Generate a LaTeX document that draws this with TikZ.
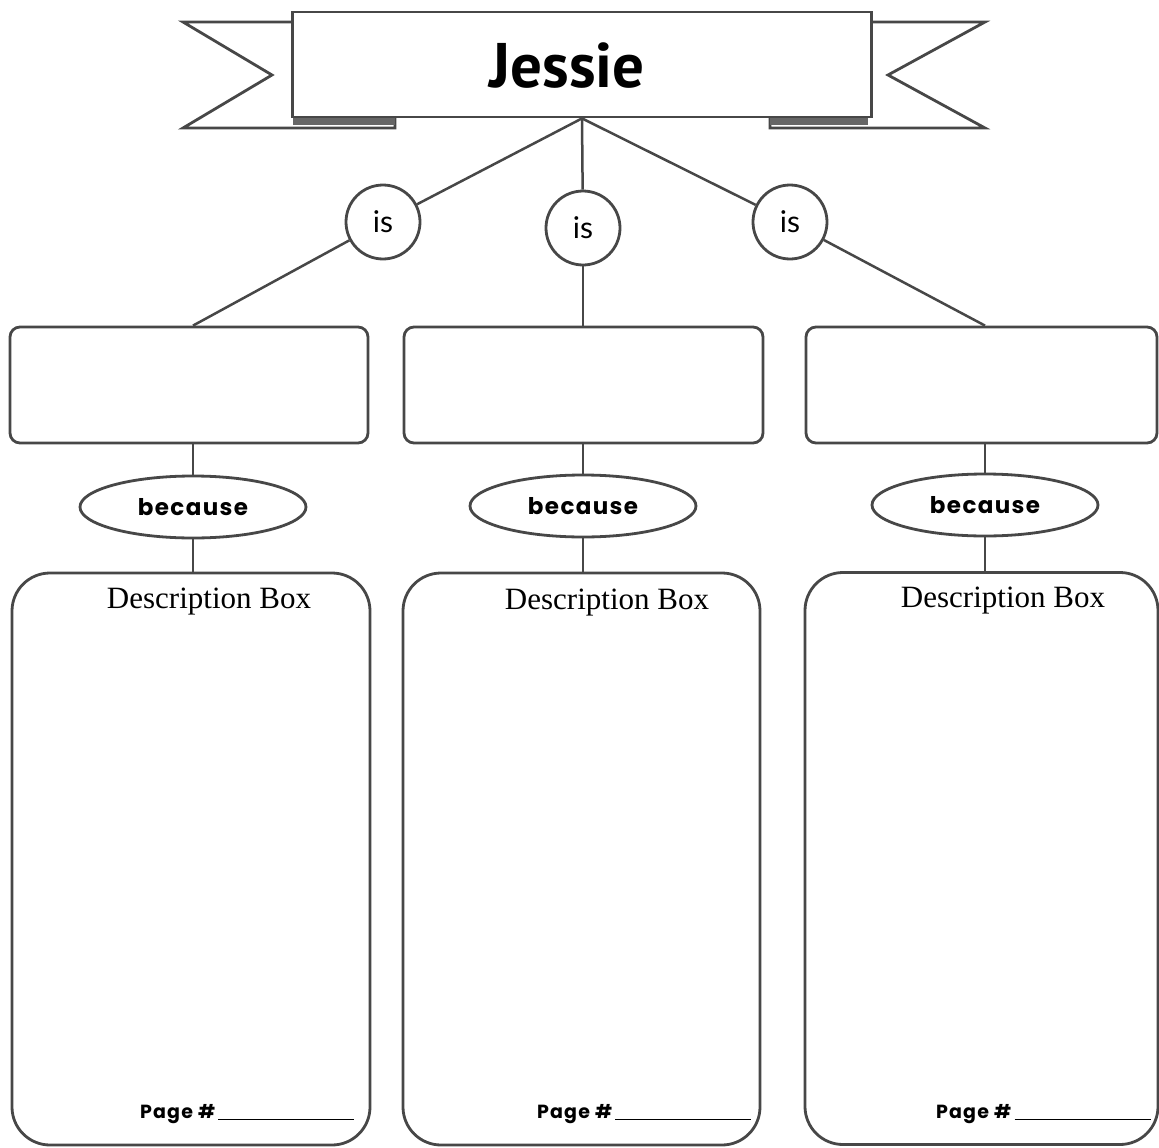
\documentclass[tikz,border=0pt]{standalone}
\usepackage{fontspec}
\setmainfont{Liberation Serif}
\newfontfamily\titlefont{PT Sans}
\newfontfamily\gothic{Poppins}[LetterSpace=6]
\newfontfamily\isfont{Lato}
\usetikzlibrary{shapes.geometric}
\begin{document}
\begin{tikzpicture}[x=1pt,y=-1pt,
  ink/.style={draw=black!72, line width=2.8pt},
  conn/.style={draw=black!72, line width=2.5pt},
  topbox/.style={ink, rounded corners=10pt, minimum height=116pt, inner sep=0pt},
  isnode/.style={ink, circle, fill=white, minimum size=74pt, inner sep=0pt, font=\isfont\fontsize{30}{32}\selectfont},
  becnode/.style={ink, ellipse, fill=white, minimum width=226pt, minimum height=62pt, inner sep=0pt, font=\gothic\bfseries\fontsize{23}{26}\selectfont},
  descbox/.style={ink, rounded corners=38pt, minimum height=572pt, inner sep=0pt},
  desclabel/.style={font=\fontsize{31}{36}\selectfont, inner sep=0pt},
  pagelabel/.style={font=\gothic\bfseries\fontsize{19}{24}\selectfont, inner sep=0pt, anchor=base west}
]
\useasboundingbox (0,0) rectangle (1159,1148);
\fill[white] (0,0) rectangle (1159,1148);

% ribbon tails
\draw[ink, line join=miter] (291,22) -- (183,22) -- (272,75) -- (183,128) -- (395,128) -- (395,117);
\draw[ink, line join=miter] (870,22) -- (985,22) -- (888,75) -- (985,128) -- (770,128) -- (770,117);
\fill[black!60] (293,117) rectangle (395,125);
\fill[black!60] (770,117) rectangle (868,125);

% banner
\node[ink, fill=white, minimum width=579pt, minimum height=105pt, inner sep=0pt] (banner) at (582,64.5) {};
\node[font=\titlefont\bfseries\fontsize{63}{66}\selectfont, inner sep=0pt] (title) at (567,66) {Jessie};

% "is" circles
\node[isnode] (is1) at (383,222) {is};
\node[isnode] (is2) at (583,228) {is};
\node[isnode] (is3) at (790,222) {is};

% top boxes
\node[topbox, minimum width=358pt] (box1) at (189,385) {};
\node[topbox, minimum width=359pt] (box2) at (583.5,385) {};
\node[topbox, minimum width=351pt] (box3) at (981.5,385) {};

% because ellipses
\node[becnode] (bec1) at (193,507) {because};
\node[becnode] (bec2) at (583,506) {because};
\node[becnode] (bec3) at (985,505) {because};

% description boxes
\node[descbox, minimum width=358pt] (d1) at (191,859) {};
\node[descbox, minimum width=357pt] (d2) at (581.5,859) {};
\node[descbox, minimum width=353pt] (d3) at (981.5,858.5) {};

\node[desclabel] (dl1) at (209,602) {Description Box};
\node[desclabel] (dl2) at (607,603) {Description Box};
\node[desclabel] (dl3) at (1003,601) {Description Box};

\node[pagelabel] (pg1) at (140,1118) {Page \#\,\rule[-2pt]{136pt}{1.2pt}};
\node[pagelabel] (pg2) at (537,1118) {Page \#\,\rule[-2pt]{136pt}{1.2pt}};
\node[pagelabel] (pg3) at (936,1118) {Page \#\,\rule[-2pt]{136pt}{1.2pt}};

% connectors
\draw[conn] (banner.south) -- (is1);
\draw[conn] (banner.south) -- (is2);
\draw[conn] (banner.south) -- (is3);
\draw[conn] (is1) -- (box1.north -| bec1);
\draw[conn] (is2) -- (box2.north -| is2);
\draw[conn] (is3) -- (box3.north -| bec3);
\draw[conn] (box1.south -| bec1) -- (bec1);
\draw[conn] (box2.south -| bec2) -- (bec2);
\draw[conn] (box3.south -| bec3) -- (bec3);
\draw[conn] (bec1) -- (bec1 |- d1.north);
\draw[conn] (bec2) -- (bec2 |- d2.north);
\draw[conn] (bec3) -- (bec3 |- d3.north);
\end{tikzpicture}
\end{document}
